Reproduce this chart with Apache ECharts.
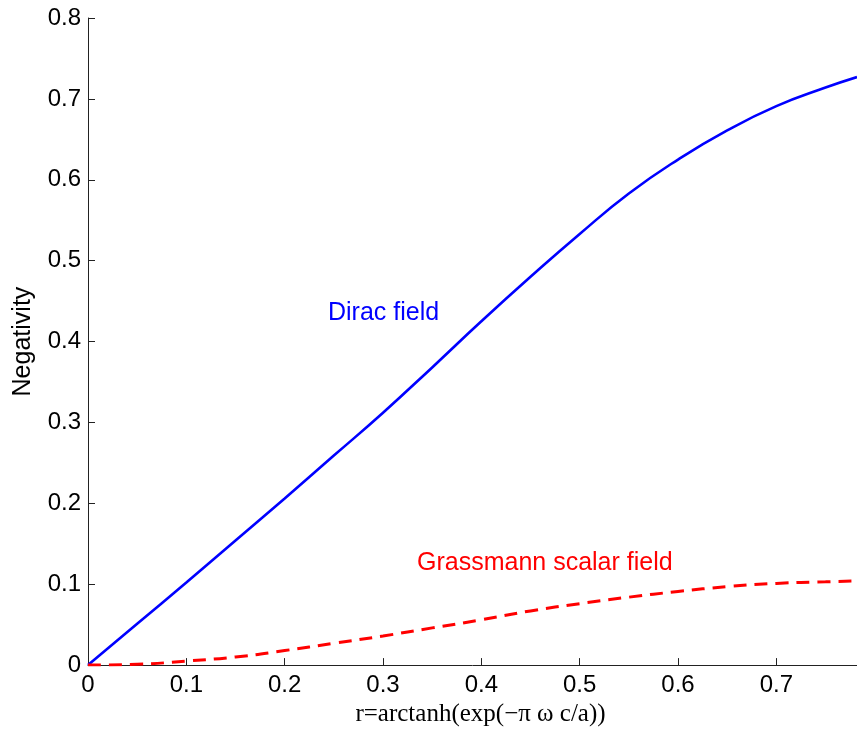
<!DOCTYPE html>
<html>
<head>
<meta charset="utf-8">
<script src="https://cdn.jsdelivr.net/npm/echarts@6/dist/echarts.min.js"></script>
<style>
  html, body { margin: 0; padding: 0; background: #fff; }
  #main { width: 857px; height: 732px; }
</style>
</head>
<body>
<div id="main"></div>
<script>
// r values (x axis)
var rValues = [0, 0.05, 0.1, 0.15, 0.2, 0.25, 0.3, 0.35, 0.4, 0.45, 0.5, 0.55, 0.6, 0.65, 0.7, 0.75, 0.782];
// Dirac field negativity
var dirac = [0, 0.051, 0.102, 0.154, 0.206, 0.259, 0.312, 0.368, 0.425, 0.480, 0.533, 0.583, 0.625, 0.661, 0.691, 0.714, 0.727];
// Grassmann scalar field negativity
var grassmann = [0, 0.001, 0.005, 0.010, 0.018, 0.027, 0.036, 0.046, 0.056, 0.067, 0.076, 0.084, 0.091, 0.097, 0.101, 0.103, 0.104];

function pairs(ys) {
  return rValues.map(function (x, i) { return [x, ys[i]]; });
}

(function () {
  var myChart = echarts.init(document.getElementById('main'));
  var axisCol = '#222';
  var option = {
    backgroundColor: '#fff',
    animation: false,
    grid: { left: 88, right: 0, top: 18, bottom: 66 },
    xAxis: {
      type: 'value',
      min: 0,
      max: 0.782,
      interval: 0.1,
      name: 'r=arctanh(exp(\u2212\u03c0 \u03c9 c/a))',
      nameLocation: 'middle',
      nameGap: 32,
      nameTextStyle: { fontFamily: 'Liberation Serif', fontSize: 25, color: '#000', padding: [0, 0, 0, 16] },
      axisLine: { lineStyle: { color: axisCol, width: 1 } },
      axisTick: { inside: true, length: 7, lineStyle: { color: axisCol } },
      axisLabel: { showMaxLabel: false, fontFamily: 'Liberation Sans', fontSize: 24, color: '#000', margin: 8 },
      splitLine: { show: false }
    },
    yAxis: {
      type: 'value',
      min: 0,
      max: 0.8,
      interval: 0.1,
      name: 'Negativity',
      nameLocation: 'middle',
      nameGap: 52,
      nameTextStyle: { fontFamily: 'Liberation Sans', fontSize: 25, color: '#000' },
      axisLine: { show: true, lineStyle: { color: axisCol, width: 1 } },
      axisTick: { show: true, inside: true, length: 7, lineStyle: { color: axisCol } },
      axisLabel: { fontFamily: 'Liberation Sans', fontSize: 24, color: '#000', margin: 7 },
      splitLine: { show: false }
    },
    series: [
      {
        name: 'Dirac field',
        type: 'line',
        data: pairs(dirac),
        smooth: true,
        showSymbol: false,
        lineStyle: { color: '#0000ff', width: 2.6 }
      },
      {
        name: 'Grassmann scalar field',
        type: 'line',
        data: pairs(grassmann),
        smooth: true,
        showSymbol: false,
        lineStyle: { color: '#ff0000', width: 3, type: [13, 8] }
      }
    ],
    graphic: [
      {
        type: 'text', left: 328, top: 301,
        style: { text: 'Dirac field', fill: '#0000ff', font: '25px "Liberation Sans"' }
      },
      {
        type: 'text', left: 417, top: 551,
        style: { text: 'Grassmann scalar field', fill: '#ff0000', font: '25px "Liberation Sans"' }
      }
    ]
  };
  myChart.setOption(option);
})();
</script>
</body>
</html>
